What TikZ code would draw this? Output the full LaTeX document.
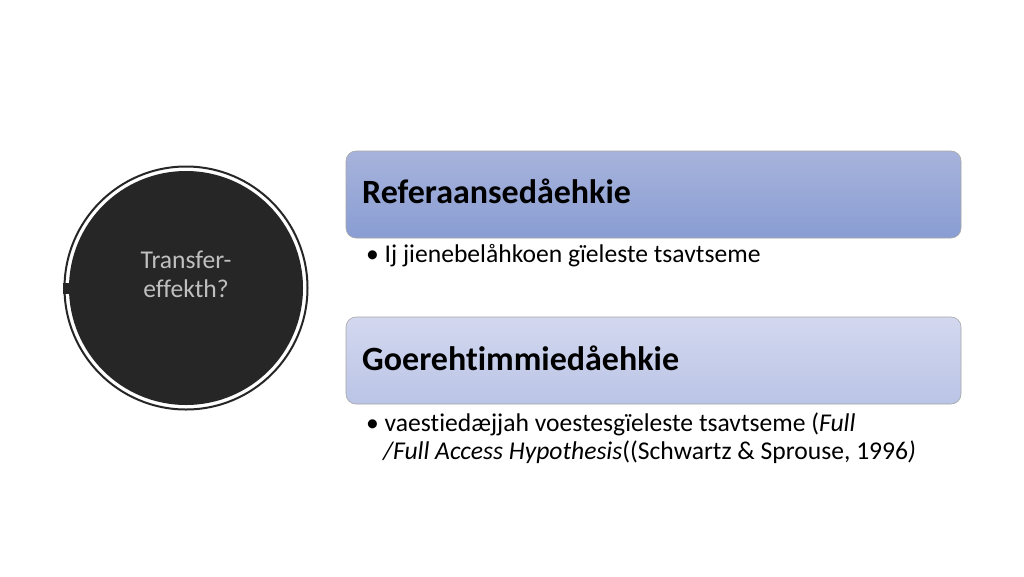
\documentclass[tikz,border=0pt]{standalone}
\usepackage{fontspec}
\setmainfont{Carlito}[Ligatures={NoCommon}]
\begin{document}
\begin{tikzpicture}[x=1pt,y=-1pt,
  hdrbox/.style={rounded corners=10pt,draw=black!35,line width=0.6pt},
  hdrtext/.style={anchor=base west,font=\bfseries\fontsize{34}{40}\selectfont,inner sep=0pt},
  bultext/.style={anchor=base west,font=\fontsize{25.6}{28}\selectfont,inner sep=0pt,align=left}]
\useasboundingbox (0,0) rectangle (1024,576);
\fill[white] (0,0) rectangle (1024,576);
% circle
\node[circle,minimum size=243pt,draw=black!85,line width=2pt,inner sep=0pt] (ring) at (186,288) {};
\node[circle,minimum size=234pt,fill=black!85,inner sep=0pt] (disc) at (186,288) {};
\fill[black!85] (63,283) rectangle (69,294);
\node[align=center,text=black!25,font=\fontsize{25.6}{29}\selectfont,anchor=base] (ct) at (186,297) {Transfer-\\effekth?};
% box 1
\shade[hdrbox,top color={rgb,255:red,167;green,179;blue,219},bottom color={rgb,255:red,137;green,157;blue,211}] (346,151) rectangle (961,238);
\node[hdrtext] (t1) at (362,203) {Referaansedåehkie};
\node[bultext] (b1) at (366,262) {\textbullet\ Ij jienebelåhkoen gïeleste tsavtseme};
% box 2
\shade[hdrbox,top color={rgb,255:red,211;green,216;blue,239},bottom color={rgb,255:red,186;green,196;blue,230}] (346,317) rectangle (961,404);
\node[hdrtext] (t2) at (362,370) {Goerehtimmiedåehkie};
\node[bultext] (b2) at (366,459) {\textbullet\ vaestiedæjjah voestesgïeleste tsavtseme (\textit{Full}\\\hspace*{17pt}\textit{/Full Access Hypothesis}((Schwartz \& Sprouse, 1996\textit{)}};
\end{tikzpicture}
\end{document}
